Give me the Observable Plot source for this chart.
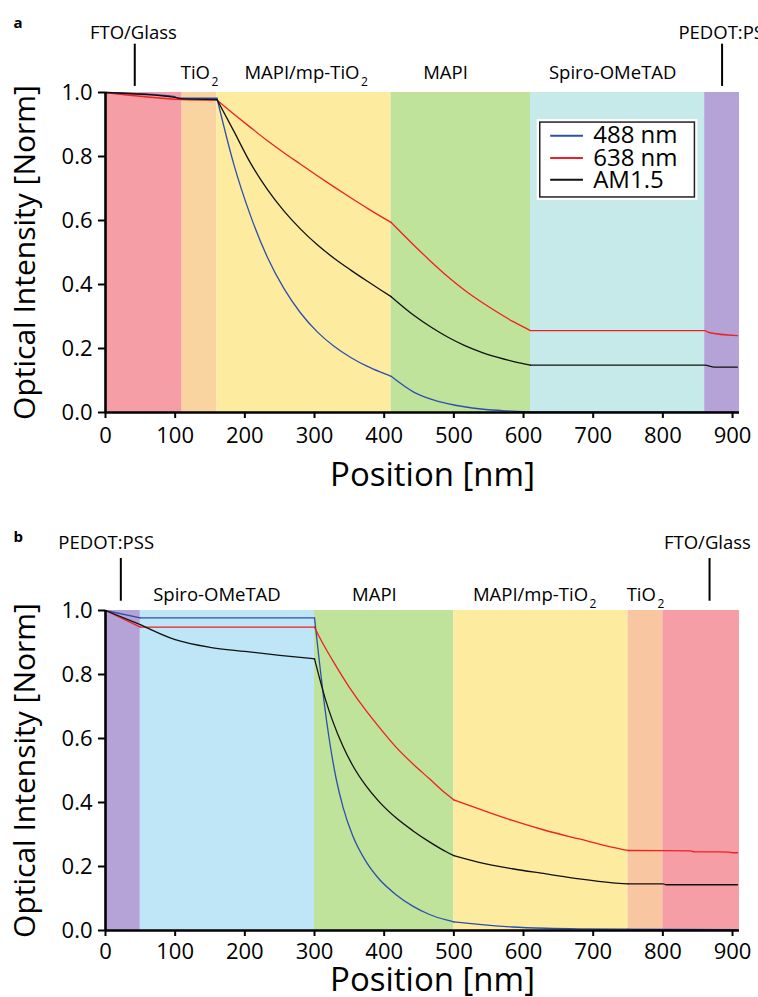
<!DOCTYPE html>
<html>
<head>
<meta charset="utf-8">
<script src="https://cdn.jsdelivr.net/npm/d3@7"></script>
<script src="https://cdn.jsdelivr.net/npm/@observablehq/plot@0.6"></script>
<style>
  html, body { margin: 0; padding: 0; background: #fff; overflow: hidden; }
  #chart { width: 758px; }
  #chart svg { display: block; }
</style>
</head>
<body>
<div id="chart"></div>
<script>
// ---- Device stacks (thickness boundaries in nm) ----
const layerNamesA = ["FTO/Glass", "TiO₂", "MAPI/mp-TiO₂", "MAPI", "Spiro-OMeTAD", "PEDOT:PSS"];
const layerEdgesA = [0, 110, 160, 410, 610, 860, 910];
const layerColorsA = ["#f59ea6", "#f9d4a0", "#fdeca0", "#bfe39b", "#c6eaea", "#b5a3d7"];

const layerNamesB = ["PEDOT:PSS", "Spiro-OMeTAD", "MAPI", "MAPI/mp-TiO₂", "TiO₂", "FTO/Glass"];
const layerEdgesB = [0, 50, 300, 500, 750, 800, 910];
const layerColorsB = ["#b5a3d7", "#bee6f7", "#bfe39b", "#fdeca0", "#f8c6a0", "#f59ea6"];

// ---- Layer captions above each panel (anchor positions in nm) ----
const bandLabelsA = ["TiO₂", "MAPI/mp-TiO₂", "MAPI", "Spiro-OMeTAD"];
const bandLabelXA = [135, 288, 488, 728];
const edgeLabelsA = ["FTO/Glass", "PEDOT:PSS"];
const edgeLabelXA = [40, 891];
const edgeMarkXA = [42, 885];

const bandLabelsB = ["Spiro-OMeTAD", "MAPI", "MAPI/mp-TiO₂", "TiO₂"];
const bandLabelXB = [160, 386, 616, 775];
const edgeLabelsB = ["PEDOT:PSS", "FTO/Glass"];
const edgeLabelXB = [1, 864];
const edgeMarkXB = [22, 867];

// ---- Series ----
const seriesNames = ["488 nm", "638 nm", "AM1.5"];
const seriesColors = ["#2c4fae", "#ee2024", "#111111"];

// ---- Axis ticks ----
const xTicks = [0, 100, 200, 300, 400, 500, 600, 700, 800, 900];
const yTicks = [0, 0.2, 0.4, 0.6, 0.8, 1.0];

// ---- Panel a: light entering through FTO/Glass ([position nm, intensity]), one list per layer ----
const a488 = [
  [[0, 1.0], [98, 0.988], [104, 0.982], [160, 0.982]],
  [[160, 0.982], [184, 0.777], [208, 0.616], [232, 0.487], [256, 0.388], [280, 0.311], [304, 0.252], [328, 0.207], [352, 0.172], [376, 0.144], [395, 0.126], [410, 0.113]],
  [[410, 0.113], [443, 0.063], [467, 0.042], [491, 0.028], [515, 0.018], [539, 0.011], [577, 0.005], [610, 0.002]],
  [[610, 0.002], [907, 0.001]]
];
const a638 = [
  [[0, 1.0], [110, 0.978], [160, 0.976]],
  [[160, 0.976], [184, 0.933], [208, 0.891], [232, 0.850], [256, 0.812], [280, 0.776], [304, 0.740], [328, 0.705], [352, 0.671], [376, 0.638], [395, 0.613], [410, 0.594]],
  [[410, 0.594], [443, 0.522], [467, 0.472], [491, 0.425], [515, 0.383], [539, 0.346], [562, 0.314], [586, 0.283], [610, 0.256]],
  [[610, 0.256], [860, 0.256], [866, 0.25], [907, 0.24]]
];
const aAM = [
  [[0, 1.0], [100, 0.985], [110, 0.98], [160, 0.978]],
  [[160, 0.978], [184, 0.88], [208, 0.78], [232, 0.698], [256, 0.63], [280, 0.573], [304, 0.524], [328, 0.482], [352, 0.445], [376, 0.410], [395, 0.383], [410, 0.362]],
  [[410, 0.362], [443, 0.303], [467, 0.267], [491, 0.236], [515, 0.210], [539, 0.189], [562, 0.173], [586, 0.159], [610, 0.148]],
  [[610, 0.148], [860, 0.148], [874, 0.142], [907, 0.142]]
];

// ---- Panel b: light entering through PEDOT:PSS ----
const b488 = [
  [[0, 1.0], [50, 0.977]],
  [[50, 0.977], [300, 0.977]],
  [[300, 0.977], [307, 0.84], [314, 0.71], [321, 0.60], [331, 0.475], [341, 0.385], [355, 0.295], [374, 0.215], [393, 0.160], [417, 0.112], [441, 0.076], [465, 0.050], [489, 0.033], [500, 0.027]],
  [[500, 0.027], [536, 0.019], [584, 0.011], [632, 0.007], [680, 0.005], [750, 0.004]],
  [[750, 0.004], [907, 0.003]]
];
const b638 = [
  [[0, 1.0], [50, 0.948]],
  [[50, 0.948], [300, 0.948]],
  [[300, 0.948], [307, 0.917], [326, 0.844], [350, 0.76], [374, 0.687], [393, 0.635], [417, 0.573], [441, 0.521], [465, 0.474], [489, 0.427], [500, 0.408]],
  [[500, 0.408], [536, 0.380], [584, 0.344], [632, 0.3125], [680, 0.286], [728, 0.26], [750, 0.25]],
  [[750, 0.25], [840, 0.249], [845, 0.246], [895, 0.245], [900, 0.243], [907, 0.243]]
];
const bAM = [
  [[0, 1.0], [50, 0.956]],
  [[50, 0.956], [100, 0.909], [150, 0.885], [200, 0.872], [250, 0.86], [300, 0.849]],
  [[300, 0.849], [307, 0.79], [316, 0.72], [326, 0.655], [341, 0.575], [355, 0.515], [374, 0.452], [393, 0.402], [417, 0.352], [441, 0.312], [465, 0.277], [489, 0.246], [500, 0.234]],
  [[500, 0.234], [536, 0.213], [584, 0.193], [632, 0.177], [680, 0.161], [728, 0.149], [750, 0.146]],
  [[750, 0.146], [800, 0.146], [805, 0.143], [907, 0.143]]
];

const FONT = "'Open Sans', 'Noto Sans', sans-serif";

function panel(cfg) {
  const bands = cfg.names.map((name, i) => ({name, x1: cfg.edges[i], x2: cfg.edges[i + 1], color: cfg.colors[i]}));
  const bandLabels = cfg.bandLabels.map((name, i) => ({name, x: cfg.bandLabelX[i]}));
  const edgeLabels = cfg.edgeLabels.map((name, i) => ({name, x: cfg.edgeLabelX[i]}));

  const marks = [];

  // coloured layer bands
  for (const b of bands) {
    marks.push(Plot.rect([b], {x1: "x1", x2: "x2", y1: 0, y2: 1, fill: b.color}));
  }

  // intensity profiles, each layer drawn as its own smooth piece
  cfg.curves.forEach((segs, s) => {
    const rows = [];
    segs.forEach((seg, k) => seg.forEach(([x, y]) => rows.push({x, y, seg: k})));
    marks.push(Plot.line(rows, {x: "x", y: "y", z: "seg", stroke: seriesColors[s], strokeWidth: 1.3, curve: "monotone-x"}));
  });

  // axes
  marks.push(
    Plot.axisY({ticks: yTicks, tickFormat: d3.format(".1f"), tickSize: 7, tickPadding: 6, fontSize: 22, strokeWidth: 2, label: null}),
    Plot.axisX({ticks: xTicks, tickFormat: d3.format("d"), tickSize: 6, tickPadding: cfg.xTickPad, fontSize: 22, strokeWidth: 2, label: null}),
    Plot.ruleX([0], {stroke: "#000", strokeWidth: 2.6}),
    Plot.ruleY([0], {stroke: "#000", strokeWidth: 2.6}),
    Plot.text(["Optical Intensity [Norm]"], {text: d => d, frameAnchor: "left", dx: -80.5, rotate: -90, textAnchor: "middle", lineAnchor: "middle", fontSize: 30}),
    Plot.text(["Position [nm]"], {text: d => d, frameAnchor: "bottom", dx: 10, dy: cfg.xTitleDy, textAnchor: "middle", lineAnchor: "bottom", fontSize: 33})
  );

  // layer captions and edge markers
  marks.push(
    Plot.text(bandLabels, {x: "x", text: "name", frameAnchor: "top", lineAnchor: "bottom", dy: cfg.bandDy, fontSize: 18.5}),
    Plot.text(edgeLabels, {x: "x", text: "name", frameAnchor: "top", lineAnchor: "bottom", dy: cfg.edgeDy, fontSize: 18.5}),
    Plot.ruleX(cfg.edgeMarkX, {y1: cfg.markSpan[0], y2: cfg.markSpan[1], stroke: "#000", strokeWidth: 2}),
    Plot.text([cfg.letter], {text: d => d, frameAnchor: "top-left", dx: -92, dy: cfg.letterDy, textAnchor: "start", lineAnchor: "bottom", fontWeight: "bold", fontSize: 15})
  );

  // legend box
  if (cfg.legend) {
    const L = cfg.legend;
    const box = [{x1: L.x1, x2: L.x2, y1: L.y1, y2: L.y2}];
    const items = seriesNames.map((name, i) => ({name, color: seriesColors[i], y: L.rows[i]}));
    marks.push(
      Plot.rect(box, {x1: "x1", x2: "x2", y1: "y1", y2: "y2", fill: "#fff", inset: -3}),
      Plot.rect(box, {x1: "x1", x2: "x2", y1: "y1", y2: "y2", fill: "#fff", stroke: "#222", strokeWidth: 1.5})
    );
    for (const it of items) {
      marks.push(Plot.ruleY([it], {x1: L.lineX[0], x2: L.lineX[1], y: "y", stroke: it.color, strokeWidth: 2}));
    }
    marks.push(Plot.text(items, {x: L.textX, y: "y", text: "name", textAnchor: "start", lineAnchor: "middle", fontSize: 24}));
  }

  const svg = Plot.plot({
    width: 758,
    height: 518,
    marginLeft: 105,
    marginRight: 19,
    marginTop: 92,
    marginBottom: 106,
    x: {domain: [0, 910]},
    y: {domain: [0, 1]},
    style: {fontFamily: FONT, fontSize: "22px", color: "#000", background: "transparent"},
    marks
  });

  // chemical subscripts (TiO₂)
  d3.select(svg).selectAll("text").each(function () {
    const s = this.textContent;
    if (!s.includes("₂") || this.children.length) return;
    const el = d3.select(this);
    el.text(null);
    const parts = s.split("₂");
    parts.forEach((p, i) => {
      if (i > 0) {
        el.append("tspan").attr("font-size", "12px").attr("dx", "1.5").attr("dy", "7").text("2");
      }
      if (p) {
        const t = el.append("tspan").text(p);
        if (i > 0) t.attr("dy", "-7");
      }
    });
  });
  return svg;
}

const root = document.getElementById("chart");
root.append(panel({
  names: layerNamesA, edges: layerEdgesA, colors: layerColorsA,
  bandLabels: bandLabelsA, bandLabelX: bandLabelXA,
  edgeLabels: edgeLabelsA, edgeLabelX: edgeLabelXA, edgeMarkX: edgeMarkXA,
  curves: [a488, a638, aAM],
  bandDy: -14, edgeDy: -54, markSpan: [1.019, 1.151], letter: "a", letterDy: -65,
  xTickPad: 9, xTitleDy: 73,
  legend: {x1: 624, x2: 846, y1: 0.672, y2: 0.906, rows: [0.865, 0.795, 0.727], lineX: [639, 686], textX: 700}
}));
root.append(panel({
  names: layerNamesB, edges: layerEdgesB, colors: layerColorsB,
  bandLabels: bandLabelsB, bandLabelX: bandLabelXB,
  edgeLabels: edgeLabelsB, edgeLabelX: edgeLabelXB, edgeMarkX: edgeMarkXB,
  curves: [b488, b638, bAM],
  bandDy: -10, edgeDy: -61.5, markSpan: [1.029, 1.1625], letter: "b", letterDy: -69,
  xTickPad: 7, xTitleDy: 60,
  legend: null
}));
</script>
</body>
</html>
